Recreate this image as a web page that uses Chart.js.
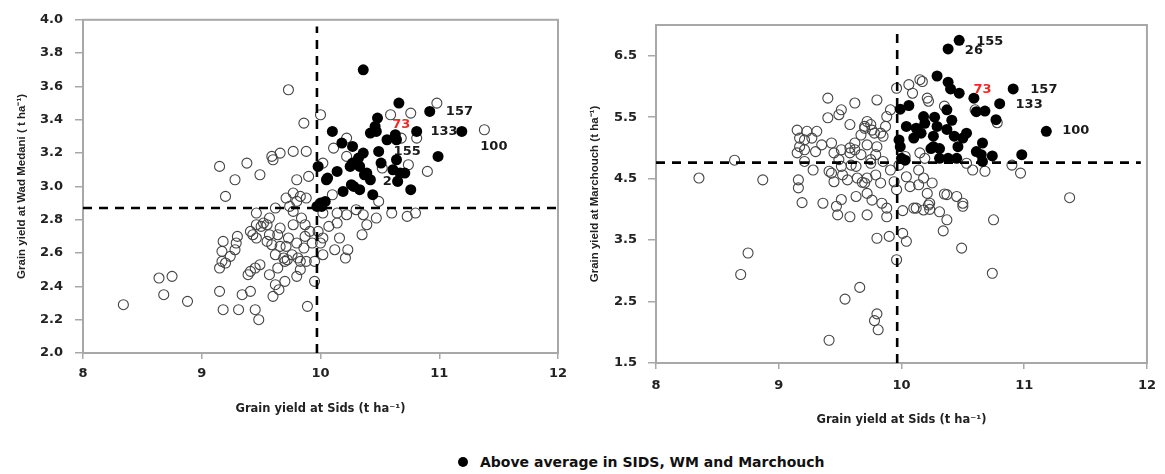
<!DOCTYPE html>
<html>
<head>
<meta charset="utf-8">
<script src="https://cdn.jsdelivr.net/npm/chart.js@4.4.1/dist/chart.umd.min.js"></script>
<style>
  html,body{margin:0;padding:0;background:#fff;}
  body{width:1165px;height:474px;position:relative;overflow:hidden;font-family:"Liberation Sans",Arial,sans-serif;}
  #c1{position:absolute;left:0;top:0;}
  #c2{position:absolute;left:580px;top:0;}
  #legend{position:absolute;left:0;top:452px;width:1165px;font-family:"DejaVu Sans",sans-serif;font-weight:bold;font-size:14px;color:#111;padding-left:458px;box-sizing:border-box;line-height:20px;}
  #legend .dot{display:inline-block;width:10px;height:10px;border-radius:50%;background:#000;margin-right:12px;vertical-align:0px;}
</style>
</head>
<body>
<canvas id="c1" width="580" height="440"></canvas>
<canvas id="c2" width="585" height="440"></canvas>
<div id="legend"><span class="dot"></span>Above average in SIDS, WM and Marchouch</div>
<script>
// ---------------- DATA ----------------
const xTicks = [8, 9, 10, 11, 12];
const leftYTicks = [2.0, 2.2, 2.4, 2.6, 2.8, 3.0, 3.2, 3.4, 3.6, 3.8, 4.0];
const rightYTicks = [1.5, 2.5, 3.5, 4.5, 5.5, 6.5];

const xTitle = 'Grain yield at Sids (t ha\u207B\u00B9)';
const leftYTitle = 'Grain yield at Wad Medani ( t ha\u207B\u00B9)';
const rightYTitle = 'Grain yield at Marchouch (t ha\u207B\u00B9)';
const legendText = 'Above average in SIDS, WM and Marchouch';

// mean lines (Sids mean, Wad Medani mean, Marchouch mean)
const leftMeanX = 9.97, leftMeanY = 2.87;
const rightMeanX = 9.965, rightMeanY = 4.76;

// Left panel: Sids (x) vs Wad Medani (y)
const leftAbove = [
 [10.36,3.70],[10.66,3.50],[10.92,3.45],[10.48,3.41],[10.46,3.36],[10.81,3.33],[11.19,3.33],[10.99,3.18],
 [10.10,3.33],[10.42,3.32],[10.47,3.33],[10.56,3.28],[10.63,3.31],[10.64,3.28],[10.18,3.26],[10.27,3.24],
 [10.49,3.21],[10.36,3.20],[10.32,3.17],[10.27,3.14],[10.25,3.12],[10.33,3.12],[10.51,3.14],[10.64,3.16],
 [9.98,3.12],[10.14,3.09],[10.05,3.04],[10.39,3.08],[10.42,3.04],[10.61,3.10],[10.67,3.08],[10.71,3.08],
 [10.65,3.03],[10.19,2.97],[10.28,3.00],[10.33,2.98],[10.44,2.95],[10.76,2.98],[10.00,2.90],[10.04,2.91],
 [9.97,2.88],[10.01,2.88],[10.37,3.07],[10.26,3.01],[10.06,3.05]
];
const leftOthers = [
 [10.98,3.50],[10.59,3.43],[10.76,3.44],[10.00,3.43],[9.86,3.38],[10.81,3.29],[10.11,3.23],[10.22,3.29],
 [10.74,3.13],[10.90,3.09],[10.02,3.14],[10.52,3.11],[9.90,3.06],[9.80,3.04],[10.49,2.91],[10.10,2.95],
 [9.77,2.96],[9.83,2.94],[9.62,2.87],[9.74,2.88],[10.14,2.84],[10.22,2.83],[10.36,2.83],[10.47,2.81],
 [10.60,2.84],[10.73,2.82],[10.80,2.84],[10.30,2.86],[10.02,2.84],[10.14,2.78],[10.07,2.76],[9.98,2.73],
 [10.39,2.77],[10.35,2.71],[10.16,2.69],[10.02,2.69],[10.00,2.66],[10.12,2.62],[10.23,2.62],[10.21,2.57],
 [10.02,2.59],[9.95,2.55],[9.88,2.55],[9.80,2.66],[9.71,2.64],[9.95,2.43],[9.89,2.28],[9.83,2.50],
 [9.80,2.46],[9.46,2.77],[9.50,2.76],[9.57,2.81],[9.43,2.71],[9.59,2.65],[9.66,2.64],[9.62,2.59],
 [9.76,2.59],[9.70,2.55],[9.83,2.55],[9.64,2.51],[9.57,2.47],[9.41,2.49],[9.45,2.51],[9.49,2.53],
 [9.62,2.41],[9.65,2.38],[9.70,2.43],[9.18,2.67],[9.29,2.66],[9.17,2.61],[9.28,2.62],[9.17,2.55],
 [9.24,2.58],[9.15,2.51],[9.20,2.54],[9.15,2.37],[9.34,2.35],[9.41,2.37],[9.18,2.26],[9.31,2.26],
 [9.45,2.26],[9.48,2.20],[9.60,2.34],[9.15,3.12],[9.38,3.14],[9.28,3.04],[9.49,3.07],[9.59,3.18],
 [9.66,3.20],[9.77,3.21],[9.88,3.21],[9.20,2.94],[9.71,2.93],[9.80,2.91],[9.88,2.93],[9.46,2.84],
 [9.52,2.78],[9.41,2.73],[9.66,2.75],[9.77,2.77],[9.84,2.81],[9.87,2.77],[9.91,2.73],[9.87,2.70],
 [9.93,2.66],[9.86,2.63],[9.73,2.69],[9.55,2.67],[9.73,3.58],[9.60,3.16],[9.55,2.77],[9.57,2.71],
 [9.64,2.71],[9.69,2.57],[9.72,2.56],[9.77,2.85],[9.81,2.57],[9.39,2.47],[9.46,2.69],[9.30,2.70],
 [8.34,2.29],[8.64,2.45],[8.75,2.46],[8.68,2.35],[8.88,2.31],[11.38,3.34],[10.68,3.29],[10.22,3.18]
];
const leftLabelText = ['157', '73', '133', '100', '155', '26'];
const leftLabelX    = [11.17, 10.68, 11.04, 11.46, 10.73, 10.60];
const leftLabelY    = [3.45, 3.37, 3.33, 3.24, 3.21, 3.03];

// Right panel: Sids (x) vs Marchouch (y)
const rightAbove = [
 [10.47,6.75],[10.38,6.61],[10.29,6.17],[10.38,6.07],[10.40,5.96],[10.47,5.89],[10.59,5.81],[10.80,5.72],
 [10.91,5.96],[9.99,5.63],[10.06,5.69],[10.37,5.62],[10.61,5.59],[10.68,5.60],[10.77,5.46],[10.18,5.51],
 [10.27,5.50],[10.41,5.45],[10.04,5.35],[10.12,5.32],[10.19,5.40],[10.29,5.35],[10.37,5.30],[10.10,5.16],
 [10.16,5.24],[10.26,5.19],[10.43,5.19],[10.53,5.24],[9.99,5.02],[10.24,4.99],[10.31,4.99],[10.46,5.02],
 [10.66,5.08],[10.61,4.94],[10.74,4.87],[10.66,4.78],[10.31,4.83],[10.38,4.83],[10.45,4.83],[10.00,4.83],
 [9.98,5.13],[10.98,4.89],[11.18,5.27],[10.50,5.16],[10.65,4.89],[10.26,5.02],[10.03,4.80]
];
const rightOthers = [
 [8.35,4.51],[8.64,4.80],[8.87,4.48],[9.16,4.48],[9.16,4.35],[9.15,4.92],[9.17,5.02],[9.15,5.29],
 [9.23,5.27],[9.27,5.16],[9.21,5.13],[9.31,5.27],[9.30,4.94],[9.35,5.05],[9.43,5.08],[9.40,5.81],
 [9.40,5.49],[9.49,5.54],[9.51,5.62],[9.62,5.73],[9.58,5.38],[9.49,4.81],[9.58,5.00],[9.62,5.08],
 [9.67,5.21],[9.70,5.35],[9.75,5.38],[9.78,5.24],[9.43,4.59],[9.45,4.45],[9.52,4.56],[9.28,4.64],
 [9.68,4.44],[9.72,4.51],[9.79,4.56],[9.59,4.72],[9.63,4.70],[9.51,4.97],[9.58,4.92],[9.80,5.78],
 [9.75,4.81],[10.06,6.03],[10.17,6.08],[10.09,5.89],[10.21,5.81],[10.22,5.76],[9.96,5.97],[9.91,5.62],
 [9.88,5.51],[9.72,5.43],[9.70,5.32],[9.76,5.29],[9.83,5.24],[9.87,5.35],[9.85,5.19],[9.62,4.97],
 [9.72,5.05],[9.80,5.02],[9.79,4.89],[9.67,4.89],[9.75,4.75],[9.85,4.78],[9.45,4.92],[9.51,4.70],
 [9.17,5.16],[9.21,4.97],[9.21,4.78],[9.19,4.11],[9.36,4.10],[9.47,4.05],[9.48,3.91],[9.58,3.88],
 [9.63,4.21],[9.72,4.26],[9.76,4.15],[9.72,3.91],[9.84,4.10],[9.88,4.02],[9.41,4.62],[9.56,4.48],
 [9.64,4.51],[9.70,4.43],[9.83,4.43],[9.91,4.64],[9.94,4.45],[9.96,4.32],[10.04,4.53],[10.14,4.64],
 [10.18,4.51],[10.14,4.40],[10.25,4.43],[10.07,4.37],[10.21,4.26],[10.23,4.10],[10.10,4.02],[10.18,3.99],
 [10.37,4.24],[10.45,4.21],[10.50,4.10],[10.50,4.05],[10.37,3.83],[10.31,3.96],[10.58,4.64],[10.68,4.62],
 [10.75,3.83],[10.03,4.86],[10.15,4.92],[10.19,4.83],[10.53,4.75],[9.98,4.72],[11.37,4.19],[10.34,3.65],
 [10.49,3.37],[10.74,2.96],[10.22,4.07],[10.23,4.00],[10.12,4.02],[10.01,3.98],[9.88,3.88],[9.80,3.53],
 [9.90,3.56],[10.01,3.61],[10.04,3.48],[9.96,3.18],[9.80,2.30],[9.78,2.19],[9.81,2.04],[10.35,4.25],
 [8.69,2.94],[8.75,3.29],[9.41,1.87],[9.54,2.54],[9.66,2.73],[9.51,4.16],[10.90,4.72],[10.97,4.59],
 [10.78,5.41],[10.60,5.62],[10.35,5.68],[10.15,6.11]
];
const rightLabelText = ['155', '26', '73', '157', '133', '100'];
const rightLabelX    = [10.72, 10.59, 10.66, 11.16, 11.04, 11.42];
const rightLabelY    = [6.73, 6.59, 5.95, 5.95, 5.71, 5.28];

// ---------------- CHART ----------------
const sansL = '"Liberation Sans", Arial, sans-serif';
const sansD = '"DejaVu Sans", sans-serif';
Chart.defaults.font.family = sansL;
Chart.defaults.color = '#222';

const toPts = arr => arr.map(p => ({x: p[0], y: p[1]}));
const labelColor = t => t === '73' ? '#f02828' : '#1a1a1a';

const panelPlugin = {
  id: 'panel',
  beforeDatasetsDraw(chart, args, opts) {
    const {ctx, chartArea: a, scales: {x, y}} = chart;
    ctx.save();
    ctx.strokeStyle = '#a8a8a8';
    ctx.lineWidth = 2;
    ctx.strokeRect(a.left, a.top, a.right - a.left, a.bottom - a.top);
    ctx.font = 'bold 13px ' + sansD;
    ctx.textAlign = 'center';
    ctx.textBaseline = 'middle';
    opts.text.forEach((t, i) => {
      ctx.fillStyle = labelColor(t);
      ctx.fillText(t, x.getPixelForValue(opts.xs[i]), y.getPixelForValue(opts.ys[i]));
    });
    ctx.restore();
  }
};

function makePanel(canvasId, cfg) {
  const gridTicks = {display: true, drawOnChartArea: false, drawTicks: true, color: '#a8a8a8', lineWidth: 1.5};
  return new Chart(document.getElementById(canvasId), {
    type: 'scatter',
    data: {
      datasets: [
        {data: toPts(cfg.above), pointRadius: 5.5, pointBackgroundColor: '#000', pointBorderColor: '#000', borderWidth: 0, pointBorderWidth: 0},
        {type: 'line', showLine: true, data: [{x: cfg.meanX, y: cfg.vLine[0]}, {x: cfg.meanX, y: cfg.vLine[1]}],
         borderColor: '#000', borderWidth: 2.6, borderDash: [9, 7], pointRadius: 0, fill: false},
        {type: 'line', showLine: true, data: [{x: cfg.hLine[0], y: cfg.meanY}, {x: cfg.hLine[1], y: cfg.meanY}],
         borderColor: '#000', borderWidth: 2.6, borderDash: [9, 7], pointRadius: 0, fill: false},
        {data: toPts(cfg.others), pointRadius: 5, pointBackgroundColor: 'rgba(255,255,255,0)', pointBorderColor: '#444', pointBorderWidth: 1.1}
      ]
    },
    options: {
      responsive: false, animation: false, devicePixelRatio: 1,
      layout: {padding: cfg.padding},
      plugins: {legend: {display: false}, tooltip: {enabled: false},
        panel: {text: cfg.labelText, xs: cfg.labelX, ys: cfg.labelY}},
      scales: {
        x: {
          type: 'linear', min: 8, max: 12,
          afterBuildTicks: s => { s.ticks = xTicks.map(v => ({value: v})); },
          afterFit: s => { s.height = cfg.xAxisH; },
          grid: Object.assign({tickLength: 6}, gridTicks),
          border: {display: false},
          ticks: {padding: cfg.xTickPad, font: {family: sansD, size: 13, weight: 'bold'}, color: '#222', callback: v => String(v)},
          title: {display: true, text: xTitle, font: {family: sansD, size: 11.5, weight: 'bold'}, color: '#222', padding: {top: 4, bottom: 4}}
        },
        y: {
          type: 'linear', min: cfg.yMin, max: cfg.yMax,
          afterBuildTicks: s => { s.ticks = cfg.yTicks.map(v => ({value: v})); },
          afterFit: s => { s.width = cfg.yAxisW; },
          grid: Object.assign({tickLength: 8}, gridTicks),
          border: {display: false},
          ticks: {padding: cfg.yTickPad, font: {family: sansD, size: 13, weight: 'bold'}, color: '#222', callback: v => Number(v).toFixed(1)},
          title: {display: true, text: cfg.yTitle, font: {family: sansL, size: 11.5, weight: 'bold'}, color: '#222', padding: {top: 4, bottom: 4}}
        }
      }
    },
    plugins: [panelPlugin]
  });
}

makePanel('c1', {
  above: leftAbove, others: leftOthers,
  meanX: leftMeanX, meanY: leftMeanY, vLine: [2.0, 3.96], hLine: [8, 12],
  yMin: 2.0, yMax: 4.0, yTicks: leftYTicks, yTitle: leftYTitle,
  labelText: leftLabelText, labelX: leftLabelX, labelY: leftLabelY,
  padding: {left: 11, top: 15, right: 22, bottom: 20},
  xAxisH: 67, yAxisW: 72, xTickPad: 7, yTickPad: 12
});

makePanel('c2', {
  above: rightAbove, others: rightOthers,
  meanX: rightMeanX, meanY: rightMeanY, vLine: [1.5, 6.89], hLine: [8, 11.95],
  yMin: 1.5, yMax: 7.0, yTicks: rightYTicks, yTitle: rightYTitle,
  labelText: rightLabelText, labelX: rightLabelX, labelY: rightLabelY,
  padding: {left: 4, top: 25, right: 12, bottom: 9},
  xAxisH: 68, yAxisW: 72, xTickPad: 9, yTickPad: 11
});
</script>
</body>
</html>
